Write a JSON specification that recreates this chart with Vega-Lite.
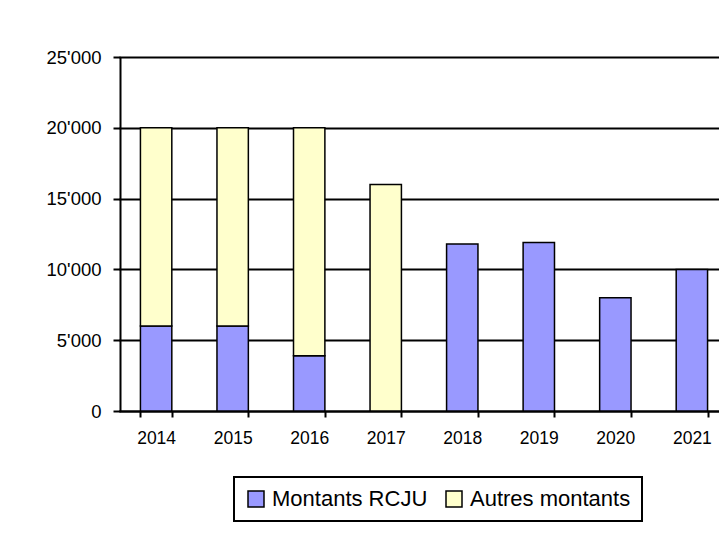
{
  "$schema": "https://vega.github.io/schema/vega-lite/v6.json",
  "autosize": {"type": "none"},
  "width": 599,
  "height": 354,
  "padding": {"left": 120, "top": 57, "right": 0, "bottom": 122},
  "background": "white",
  "config": {
    "font": "Liberation Sans",
    "locale": {"number": {"decimal": ".", "thousands": "'", "grouping": [3], "currency": ["", ""]}},
    "view": {"stroke": null}
  },
  "data": {
    "values": [
      {"annee": "2014", "serie": "Montants RCJU", "k": 1, "montant": 6000},
      {"annee": "2014", "serie": "Autres montants", "k": 2, "montant": 14000},
      {"annee": "2015", "serie": "Montants RCJU", "k": 1, "montant": 6000},
      {"annee": "2015", "serie": "Autres montants", "k": 2, "montant": 14000},
      {"annee": "2016", "serie": "Montants RCJU", "k": 1, "montant": 3900},
      {"annee": "2016", "serie": "Autres montants", "k": 2, "montant": 16100},
      {"annee": "2017", "serie": "Montants RCJU", "k": 1, "montant": 0},
      {"annee": "2017", "serie": "Autres montants", "k": 2, "montant": 16000},
      {"annee": "2018", "serie": "Montants RCJU", "k": 1, "montant": 11800},
      {"annee": "2019", "serie": "Montants RCJU", "k": 1, "montant": 11900},
      {"annee": "2020", "serie": "Montants RCJU", "k": 1, "montant": 8000},
      {"annee": "2021", "serie": "Montants RCJU", "k": 1, "montant": 10000}
    ]
  },
  "transform": [{"filter": "datum.montant > 0"}],
  "mark": {"type": "bar", "stroke": "black", "strokeWidth": 1.5, "fillOpacity": 1},
  "encoding": {
    "x": {
      "field": "annee", "type": "nominal", "title": null,
      "scale": {"range": [-1, 609], "paddingInner": 0.59, "paddingOuter": 0.28},
      "axis": {
        "labelAngle": 0, "labelFontSize": 17.5, "labelColor": "black",
        "domainColor": "black", "domainWidth": 2,
        "tickColor": "black", "tickWidth": 2, "tickSize": 6, "tickBand": "extent",
        "labelPadding": 12, "grid": false
      }
    },
    "y": {
      "field": "montant", "type": "quantitative", "title": null, "stack": "zero",
      "scale": {"domain": [0, 25000], "nice": false},
      "axis": {
        "values": [0, 5000, 10000, 15000, 20000, 25000], "format": ",d",
        "labelFontSize": 18.5, "labelColor": "black", "labelPadding": 12,
        "domainColor": "black", "domainWidth": 2,
        "tickColor": "black", "tickWidth": 2, "tickSize": 7,
        "grid": true, "gridColor": "black", "gridWidth": 2, "gridOpacity": 1
      }
    },
    "color": {
      "field": "serie", "type": "nominal",
      "scale": {"domain": ["Montants RCJU", "Autres montants"], "range": ["#9999FF", "#FFFFCC"]},
      "legend": {
        "title": null, "orient": "none", "direction": "horizontal",
        "legendX": 114, "legendY": 420,
        "strokeColor": "black", "padding": 11,
        "labelFontSize": 22, "labelColor": "black", "labelOffset": 5, "labelLimit": 400,
        "symbolType": "square", "symbolSize": 256, "symbolStrokeColor": "black",
        "symbolStrokeWidth": 1.5, "symbolOpacity": 1, "columnPadding": 15,
        "encode": {"legend": {"update": {"strokeWidth": {"value": 2}}}}
      }
    },
    "order": {"field": "k", "type": "quantitative"}
  }
}
